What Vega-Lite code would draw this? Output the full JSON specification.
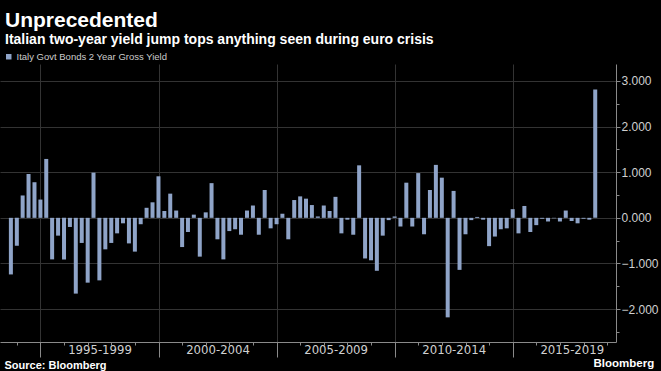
{
  "$schema": "https://vega.github.io/schema/vega-lite/v6.json",
  "width": 616,
  "height": 278,
  "autosize": {"type": "none"},
  "padding": {"top": 64, "left": 0, "right": 45, "bottom": 29},
  "background": "#000000",
  "title": {
    "text": "Unprecedented",
    "subtitle": "Italian two-year yield jump tops anything seen during euro crisis",
    "anchor": "start",
    "frame": "group",
    "dx": 5,
    "offset": 5,
    "font": "Liberation Sans",
    "fontSize": 21,
    "fontWeight": "bold",
    "color": "#ffffff",
    "subtitleFont": "Liberation Sans",
    "subtitleFontSize": 14,
    "subtitleFontWeight": "bold",
    "subtitleColor": "#ffffff",
    "subtitlePadding": 2
  },
  "data": {
    "values": [
      {"date": "1993-09-30", "change": -1.24},
      {"date": "1993-12-31", "change": -0.61},
      {"date": "1994-03-31", "change": 0.49},
      {"date": "1994-06-30", "change": 0.96},
      {"date": "1994-09-30", "change": 0.78},
      {"date": "1994-12-31", "change": 0.40},
      {"date": "1995-03-31", "change": 1.29},
      {"date": "1995-06-30", "change": -0.91},
      {"date": "1995-09-30", "change": -0.39},
      {"date": "1995-12-31", "change": -0.91},
      {"date": "1996-03-31", "change": -0.20},
      {"date": "1996-06-30", "change": -1.66},
      {"date": "1996-09-30", "change": -0.55},
      {"date": "1996-12-31", "change": -1.42},
      {"date": "1997-03-31", "change": 0.99},
      {"date": "1997-06-30", "change": -1.37},
      {"date": "1997-09-30", "change": -0.69},
      {"date": "1997-12-31", "change": -0.55},
      {"date": "1998-03-31", "change": -0.34},
      {"date": "1998-06-30", "change": -0.12},
      {"date": "1998-09-30", "change": -0.56},
      {"date": "1998-12-31", "change": -0.74},
      {"date": "1999-03-31", "change": -0.14},
      {"date": "1999-06-30", "change": 0.22},
      {"date": "1999-09-30", "change": 0.34},
      {"date": "1999-12-31", "change": 0.91},
      {"date": "2000-03-31", "change": 0.15},
      {"date": "2000-06-30", "change": 0.53},
      {"date": "2000-09-30", "change": 0.16},
      {"date": "2000-12-31", "change": -0.64},
      {"date": "2001-03-31", "change": -0.31},
      {"date": "2001-06-30", "change": 0.07},
      {"date": "2001-09-30", "change": -0.85},
      {"date": "2001-12-31", "change": 0.12},
      {"date": "2002-03-31", "change": 0.76},
      {"date": "2002-06-30", "change": -0.47},
      {"date": "2002-09-30", "change": -0.91},
      {"date": "2002-12-31", "change": -0.29},
      {"date": "2003-03-31", "change": -0.25},
      {"date": "2003-06-30", "change": -0.37},
      {"date": "2003-09-30", "change": 0.16},
      {"date": "2003-12-31", "change": 0.27},
      {"date": "2004-03-31", "change": -0.37},
      {"date": "2004-06-30", "change": 0.61},
      {"date": "2004-09-30", "change": -0.23},
      {"date": "2004-12-31", "change": -0.14},
      {"date": "2005-03-31", "change": 0.09},
      {"date": "2005-06-30", "change": -0.47},
      {"date": "2005-09-30", "change": 0.39},
      {"date": "2005-12-31", "change": 0.47},
      {"date": "2006-03-31", "change": 0.42},
      {"date": "2006-06-30", "change": 0.28},
      {"date": "2006-09-30", "change": 0.03},
      {"date": "2006-12-31", "change": 0.27},
      {"date": "2007-03-31", "change": 0.15},
      {"date": "2007-06-30", "change": 0.46},
      {"date": "2007-09-30", "change": -0.34},
      {"date": "2007-12-31", "change": -0.04},
      {"date": "2008-03-31", "change": -0.37},
      {"date": "2008-06-30", "change": 1.15},
      {"date": "2008-09-30", "change": -0.89},
      {"date": "2008-12-31", "change": -0.93},
      {"date": "2009-03-31", "change": -1.16},
      {"date": "2009-06-30", "change": -0.39},
      {"date": "2009-09-30", "change": -0.05},
      {"date": "2009-12-31", "change": 0.03},
      {"date": "2010-03-31", "change": -0.19},
      {"date": "2010-06-30", "change": 0.77},
      {"date": "2010-09-30", "change": -0.19},
      {"date": "2010-12-31", "change": 0.98},
      {"date": "2011-03-31", "change": -0.36},
      {"date": "2011-06-30", "change": 0.61},
      {"date": "2011-09-30", "change": 1.16},
      {"date": "2011-12-31", "change": 0.88},
      {"date": "2012-03-31", "change": -2.18},
      {"date": "2012-06-30", "change": 0.59},
      {"date": "2012-09-30", "change": -1.14},
      {"date": "2012-12-31", "change": -0.36},
      {"date": "2013-03-31", "change": -0.05},
      {"date": "2013-06-30", "change": 0.02},
      {"date": "2013-09-30", "change": -0.04},
      {"date": "2013-12-31", "change": -0.62},
      {"date": "2014-03-31", "change": -0.41},
      {"date": "2014-06-30", "change": -0.25},
      {"date": "2014-09-30", "change": -0.23},
      {"date": "2014-12-31", "change": 0.19},
      {"date": "2015-03-31", "change": -0.34},
      {"date": "2015-06-30", "change": 0.26},
      {"date": "2015-09-30", "change": -0.31},
      {"date": "2015-12-31", "change": -0.16},
      {"date": "2016-03-31", "change": -0.02},
      {"date": "2016-06-30", "change": -0.08},
      {"date": "2016-09-30", "change": -0.01},
      {"date": "2016-12-31", "change": -0.08},
      {"date": "2017-03-31", "change": 0.16},
      {"date": "2017-06-30", "change": -0.07},
      {"date": "2017-09-30", "change": -0.12},
      {"date": "2017-12-31", "change": -0.02},
      {"date": "2018-03-31", "change": -0.04},
      {"date": "2018-06-30", "change": 2.81}
    ]
  },
  "mark": {"type": "bar", "size": 4, "orient": "vertical"},
  "encoding": {
    "x": {
      "field": "date",
      "type": "temporal",
      "scale": {"type": "utc", "domain": [{"year": 1993, "month": 7, "date": 1, "utc": true}, {"year": 2019, "month": 3, "date": 1, "utc": true}]},
      "axis": {
        "title": "Source: Bloomberg",
        "titleAnchor": "start",
        "titleAlign": "left",
        "titleX": 4,
        "titleY": 26,
        "titleBaseline": "alphabetic",
        "titleFont": "Liberation Sans",
        "titleFontSize": 11,
        "titleFontWeight": "bold",
        "titleColor": "#ffffff",
        "values": [
          {"year": 1994, "month": 1, "date": 1, "utc": true},
          {"year": 1995, "month": 1, "date": 1, "utc": true},
          {"year": 1996, "month": 1, "date": 1, "utc": true},
          {"year": 1997, "month": 1, "date": 1, "utc": true},
          {"year": 1997, "month": 7, "date": 2, "utc": true},
          {"year": 1998, "month": 1, "date": 1, "utc": true},
          {"year": 1999, "month": 1, "date": 1, "utc": true},
          {"year": 2000, "month": 1, "date": 1, "utc": true},
          {"year": 2001, "month": 1, "date": 1, "utc": true},
          {"year": 2002, "month": 1, "date": 1, "utc": true},
          {"year": 2002, "month": 7, "date": 2, "utc": true},
          {"year": 2003, "month": 1, "date": 1, "utc": true},
          {"year": 2004, "month": 1, "date": 1, "utc": true},
          {"year": 2005, "month": 1, "date": 1, "utc": true},
          {"year": 2006, "month": 1, "date": 1, "utc": true},
          {"year": 2007, "month": 1, "date": 1, "utc": true},
          {"year": 2007, "month": 7, "date": 2, "utc": true},
          {"year": 2008, "month": 1, "date": 1, "utc": true},
          {"year": 2009, "month": 1, "date": 1, "utc": true},
          {"year": 2010, "month": 1, "date": 1, "utc": true},
          {"year": 2011, "month": 1, "date": 1, "utc": true},
          {"year": 2012, "month": 1, "date": 1, "utc": true},
          {"year": 2012, "month": 7, "date": 2, "utc": true},
          {"year": 2013, "month": 1, "date": 1, "utc": true},
          {"year": 2014, "month": 1, "date": 1, "utc": true},
          {"year": 2015, "month": 1, "date": 1, "utc": true},
          {"year": 2016, "month": 1, "date": 1, "utc": true},
          {"year": 2017, "month": 1, "date": 1, "utc": true},
          {"year": 2017, "month": 7, "date": 2, "utc": true},
          {"year": 2018, "month": 1, "date": 1, "utc": true},
          {"year": 2019, "month": 1, "date": 1, "utc": true}
        ],
        "labelExpr": "utcmonth(datum.value) == 6 ? (utcyear(datum.value) - 2) + '-' + (utcyear(datum.value) + 2) : ''",
        "labelFont": "Liberation Sans Narrow, DejaVu Sans Condensed, Liberation Sans",
        "labelFontSize": 13,
        "labelColor": "#d0d0d0",
        "labelPadding": -2,
        "labelBaseline": "top",
        "labelOverlap": false,
        "labelFlush": false,
        "domainColor": "#8a8a8a",
        "domainWidth": 1,
        "tickColor": "#8a8a8a",
        "tickSize": {"condition": {"test": "utcyear(datum.value) % 5 == 0 && utcmonth(datum.value) == 0", "value": 15}, "value": 3},
        "tickOpacity": {"condition": {"test": "utcmonth(datum.value) == 6", "value": 0}, "value": 1},
        "grid": true,
        "gridColor": "#333333",
        "gridOpacity": {"condition": {"test": "utcyear(datum.value) % 5 == 0 && utcmonth(datum.value) == 0", "value": 1}, "value": 0}
      }
    },
    "y": {
      "field": "change",
      "type": "quantitative",
      "scale": {"domain": [-2.72, 3.37], "nice": false, "zero": false},
      "axis": {
        "orient": "right",
        "title": "Bloomberg",
        "titleAngle": 0,
        "titleAlign": "left",
        "titleBaseline": "alphabetic",
        "titleX": -23,
        "titleY": 302,
        "titleFont": "Liberation Sans",
        "titleFontSize": 11.5,
        "titleFontWeight": "bold",
        "titleColor": "#ffffff",
        "values": [-2.5, -2, -1.5, -1, -0.5, 0, 0.5, 1, 1.5, 2, 2.5, 3],
        "labelExpr": "datum.value % 1 == 0 ? format(datum.value, '.3f') : ''",
        "labelFont": "Liberation Sans",
        "labelFontSize": 12,
        "labelColor": "#d0d0d0",
        "labelPadding": 1,
        "labelOverlap": false,
        "domainColor": "#8a8a8a",
        "tickColor": "#8a8a8a",
        "tickSize": {"condition": {"test": "datum.value % 1 == 0", "value": 4}, "value": 3},
        "grid": true,
        "gridColor": "#333333",
        "gridOpacity": {"condition": {"test": "datum.value % 1 != 0", "value": 0}, "value": 1}
      }
    },
    "color": {
      "datum": "Italy Govt Bonds 2 Year Gross Yield",
      "type": "nominal",
      "scale": {"range": ["#8fa4c8"]},
      "legend": {
        "title": null,
        "orient": "none",
        "legendX": 4,
        "legendY": -12,
        "symbolType": "square",
        "symbolSize": 30,
        "symbolStrokeWidth": 0,
        "labelFont": "Liberation Sans",
        "labelFontSize": 9.5,
        "labelColor": "#cccccc",
        "labelOffset": 3
      }
    }
  },
  "config": {
    "view": {"stroke": null}
  }
}
